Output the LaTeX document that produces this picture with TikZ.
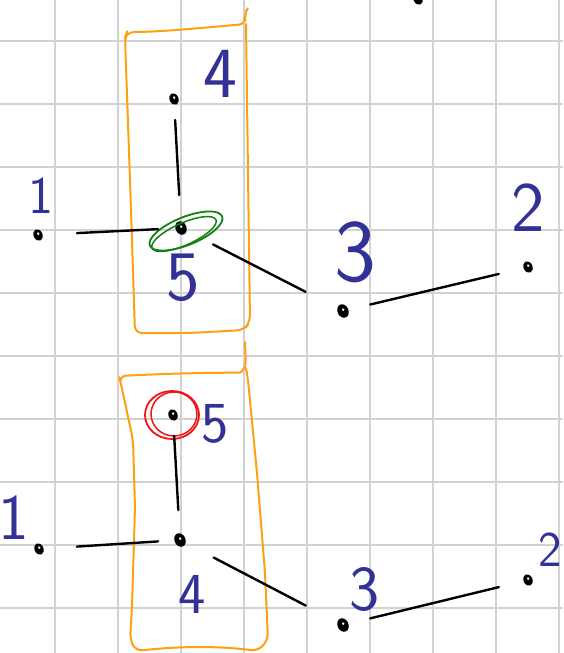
\documentclass[tikz,border=0pt]{standalone}
\usetikzlibrary{shapes.geometric}
\definecolor{gridc}{HTML}{D2D2D2}
\definecolor{boxc}{HTML}{FFA010}
\definecolor{inkblue}{HTML}{323296}
\definecolor{inkgreen}{HTML}{128212}
\definecolor{inkred}{HTML}{F01414}
\begin{document}
\begin{tikzpicture}[x=1pt,y=-1pt,
  gridline/.style={gridc, line width=1.6pt},
  dot/.style={ellipse, fill=black, inner sep=0pt, minimum width=9pt, minimum height=12pt, rotate=25,
    path picture={\fill[white] ([xshift=0.8pt,yshift=1.2pt]path picture bounding box.center) circle (1.4pt);}},
  bigdot/.style={dot, minimum width=11pt, minimum height=14pt},
  lbl/.style={text=inkblue, inner sep=0pt, font=\sffamily\fontsize{#1}{#1}\selectfont},
  conn/.style={black, line width=2.4pt, line cap=round},
  boxline/.style={boxc, line width=2pt, line cap=round, line join=round, rounded corners=7pt}]
\useasboundingbox (0,0) rectangle (563,653);
\fill[white] (0,0) rectangle (563,653);
\clip (0,0) rectangle (563,653);
% grid
\foreach \gx in {55,118,181,244,307,370,433,496,559} \draw[gridline] (\gx,0) -- (\gx,653);
\foreach \gy in {41,104,167,230,293,356,419,482,545,608} \draw[gridline] (0,\gy) -- (563,\gy);

% ---------- top diagram ----------
\draw[boxline] (246,11) -- (244,14) -- (246,24) .. controls (200,28) and (160,32) .. (127,32) -- (125,38)
  -- (130,180) -- (135,333) -- (190,333) -- (244,330) -- (250,322) -- (246,24);
\node[dot] (ntop) at (418,-1) {};
\node[dot] (n4t) at (174,99) {};
\node[bigdot] (n5t) at (181,228) {};
\node[dot] (n1t) at (38,235) {};
\node[bigdot] (n3t) at (343,311) {};
\node[dot] (n2t) at (528,267) {};
\draw[inkgreen, line width=1.8pt, rotate around={22:(186,231)}] (186,231) ellipse (39 and 14);
\draw[inkgreen, line width=1.5pt, rotate around={24:(184,234)}] (184,234) ellipse (35 and 11);
\draw[conn, shorten <=21pt, shorten >=33pt] (n4t.center) -- (n5t.center);
\draw[conn, shorten <=39pt, shorten >=23pt] (n1t.center) -- (n5t.center);
\draw[conn, shorten <=36pt, shorten >=42pt] (n5t.center) -- (n3t.center);
\draw[conn, shorten <=28pt, shorten >=30pt] (n3t.center) -- (n2t.center);
\node[lbl=72] (l4t) at (220,74) {4};
\node[lbl=71] (l5t) at (183,278) {5};
\node[lbl=53] (l1t) at (41,196) {1};
\node[lbl=89] (l3t) at (355,252) {3};
\node[lbl=71] (l2t) at (528,208) {2};

% ---------- bottom diagram ----------
\draw[boxline] (245,342) -- (246,368) .. controls (240,373) and (200,372) .. (119,376) -- (121,384)
  -- (133,440) -- (135,507) -- (132,607) -- (130,640) -- (136,651) .. controls (180,646) and (220,646) .. (258,651)
  -- (268,640) -- (265,573) -- (257,473) -- (248,380) -- (246,368);
\node[dot] (n5b) at (173,415) {};
\node[bigdot] (n4b) at (180,540) {};
\node[dot] (n1b) at (39,549) {};
\node[bigdot] (n3b) at (343,625) {};
\node[dot] (n2b) at (528,580) {};
\draw[inkred, line width=1.8pt] (172,415) ellipse (27 and 24);
\draw[inkred, line width=1.5pt] (174,414) ellipse (23 and 22);
\draw[conn, shorten <=21pt, shorten >=30pt] (n5b.center) -- (n4b.center);
\draw[conn, shorten <=38pt, shorten >=22pt] (n1b.center) -- (n4b.center);
\draw[conn, shorten <=38pt, shorten >=42pt] (n4b.center) -- (n3b.center);
\draw[conn, shorten <=28pt, shorten >=30pt] (n3b.center) -- (n2b.center);
\node[lbl=58] (l5b) at (215,424) {5};
\node[lbl=58] (l4b) at (192,594) {4};
\node[lbl=65] (l1b) at (14,518) {1};
\node[lbl=64] (l3b) at (365,589) {3};
\node[lbl=50] (l2b) at (550,550) {2};
\end{tikzpicture}
\end{document}
